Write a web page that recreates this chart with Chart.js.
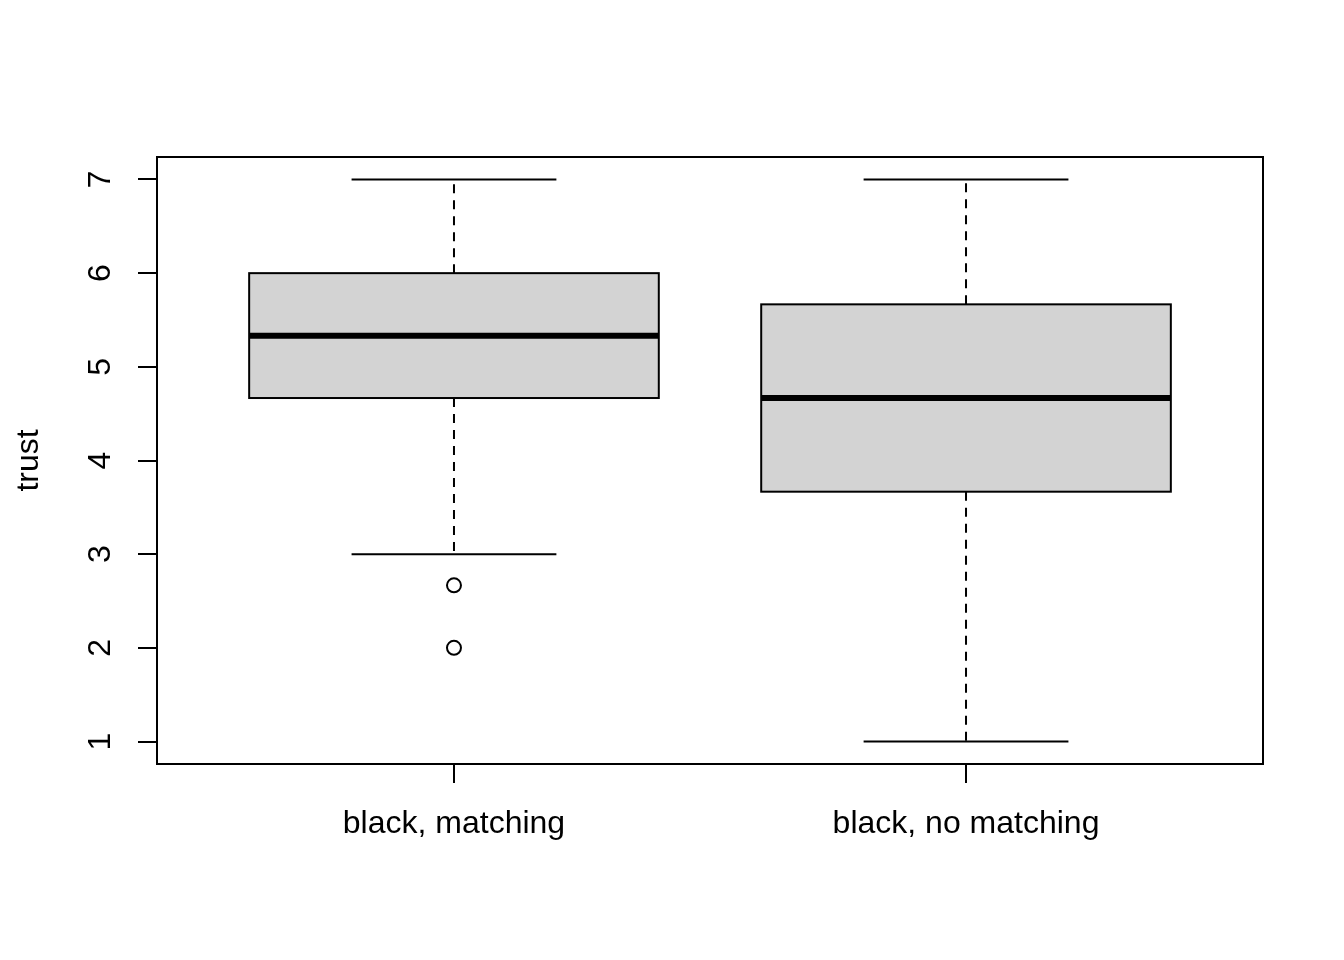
<!DOCTYPE html>
<html>
<head>
<meta charset="utf-8">
<script src="https://cdn.jsdelivr.net/npm/chart.js@4/dist/chart.umd.min.js"></script>
<style>
  html, body { margin: 0; padding: 0; background: #ffffff; }
  #wrap { width: 1344px; height: 960px; }
</style>
</head>
<body>
<div id="wrap"><canvas id="c" width="1344" height="960"></canvas></div>
<script>
// ---- data ----
const categories = ['black, matching', 'black, no matching'];
const whiskerLow = [3, 1];
const q1 = [4.667, 3.667];
const median = [5.333, 4.667];
const q3 = [6, 5.667];
const whiskerHigh = [7, 7];
const outliers = [[2.667, 2], []];
const yTicks = [1, 2, 3, 4, 5, 6, 7];
const yLabel = 'trust';

const FONT = '"Liberation Sans", Arial, Helvetica, sans-serif';
Chart.defaults.font.family = FONT;
Chart.defaults.color = '#000';

const outlierPoints = [];
outliers.forEach((arr, i) => arr.forEach(v => outlierPoints.push({ x: i + 1, y: v })));

const boxPlugin = {
  id: 'boxes',
  beforeDatasetsDraw(chart) {
    const ctx = chart.ctx;
    const xs = chart.scales.x, ys = chart.scales.y;
    const halfBox = (xs.getPixelForValue(1.4) - xs.getPixelForValue(1));
    const halfCap = (xs.getPixelForValue(1.2) - xs.getPixelForValue(1));
    ctx.save();
    categories.forEach((c, i) => {
      const cx = xs.getPixelForValue(i + 1);
      const pLow = ys.getPixelForValue(whiskerLow[i]);
      const pQ1 = ys.getPixelForValue(q1[i]);
      const pMed = ys.getPixelForValue(median[i]);
      const pQ3 = ys.getPixelForValue(q3[i]);
      const pHigh = ys.getPixelForValue(whiskerHigh[i]);
      ctx.strokeStyle = '#000';
      ctx.lineWidth = 2;
      // whiskers (dashed)
      ctx.setLineDash([9, 7]);
      ctx.beginPath();
      ctx.moveTo(cx, pQ3); ctx.lineTo(cx, pHigh);
      ctx.moveTo(cx, pQ1); ctx.lineTo(cx, pLow);
      ctx.stroke();
      ctx.setLineDash([]);
      // caps
      ctx.beginPath();
      ctx.moveTo(cx - halfCap, pHigh); ctx.lineTo(cx + halfCap, pHigh);
      ctx.moveTo(cx - halfCap, pLow); ctx.lineTo(cx + halfCap, pLow);
      ctx.stroke();
      // box
      ctx.fillStyle = '#D3D3D3';
      ctx.fillRect(cx - halfBox, pQ3, 2 * halfBox, pQ1 - pQ3);
      ctx.strokeRect(cx - halfBox, pQ3, 2 * halfBox, pQ1 - pQ3);
      // median
      ctx.lineWidth = 6;
      ctx.lineCap = 'butt';
      ctx.beginPath();
      ctx.moveTo(cx - halfBox, pMed); ctx.lineTo(cx + halfBox, pMed);
      ctx.stroke();
    });
    ctx.restore();
  },
  afterDraw(chart) {
    const ctx = chart.ctx;
    const a = chart.chartArea;
    const ys = chart.scales.y;
    ctx.save();
    ctx.strokeStyle = '#000';
    ctx.lineWidth = 2;
    ctx.strokeRect(a.left, a.top, a.right - a.left, a.bottom - a.top);
    // rotated y tick labels (R style, las = 0)
    ctx.fillStyle = '#000';
    ctx.font = '32px ' + FONT;
    ctx.textAlign = 'center';
    ctx.textBaseline = 'alphabetic';
    ys.ticks.forEach(t => {
      const py = ys.getPixelForValue(t.value);
      ctx.save();
      ctx.translate(110, py);
      ctx.rotate(-Math.PI / 2);
      ctx.fillText(String(t.value), 0, 0);
      ctx.restore();
    });
    ctx.restore();
  }
};

new Chart(document.getElementById('c'), {
  type: 'scatter',
  data: {
    datasets: [{
      data: outlierPoints,
      pointRadius: 7,
      pointHoverRadius: 7,
      pointBorderWidth: 2,
      borderColor: '#000',
      backgroundColor: 'rgba(0,0,0,0)',
      pointBackgroundColor: 'rgba(0,0,0,0)',
      pointBorderColor: '#000'
    }]
  },
  options: {
    responsive: false,
    animation: false,
    devicePixelRatio: 1,
    layout: { padding: { top: 157, right: 81, left: 0, bottom: 0 } },
    plugins: { legend: { display: false }, tooltip: { enabled: false } },
    scales: {
      x: {
        type: 'linear',
        min: 0.42, max: 2.58,
        afterBuildTicks: s => { s.ticks = categories.map((c, i) => ({ value: i + 1 })); },
        afterFit: s => { s.height = 196; },
        border: { display: false },
        grid: { drawOnChartArea: false, drawTicks: true, tickLength: 19, color: '#000', lineWidth: 2 },
        ticks: {
          autoSkip: false, maxRotation: 0, minRotation: 0,
          padding: 22,
          font: { size: 32 }, color: '#000',
          callback: v => categories[Math.round(v) - 1]
        }
      },
      y: {
        type: 'linear',
        min: 0.76, max: 7.24,
        afterBuildTicks: s => { s.ticks = yTicks.map(v => ({ value: v })); },
        afterFit: s => { s.width = 157; },
        border: { display: false },
        grid: { drawOnChartArea: false, drawTicks: true, tickLength: 19, color: '#000', lineWidth: 2 },
        ticks: { display: false },
        title: { display: true, text: yLabel, font: { size: 32 }, color: '#000', padding: { top: 10, bottom: 0 } }
      }
    }
  },
  plugins: [boxPlugin]
});
</script>
</body>
</html>
